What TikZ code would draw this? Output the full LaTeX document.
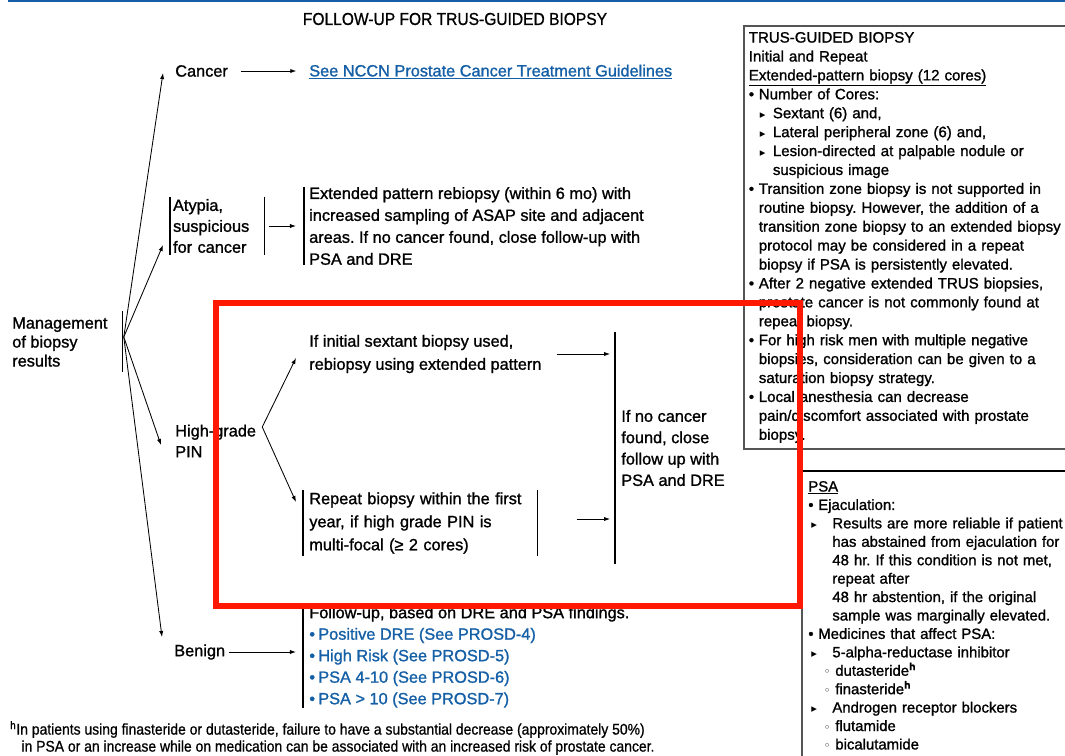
\documentclass[tikz,border=0pt]{standalone}
\usepackage{fontspec}
\setmainfont[FakeBold=1.2]{Liberation Sans}
\newfontfamily\narrowfont[FakeStretch=0.9,FakeBold=0.8]{Liberation Sans}
\newfontfamily\symfont{DejaVu Sans}
\usetikzlibrary{arrows.meta,calc}
\definecolor{nccnblue}{RGB}{20,95,165}
\definecolor{framegray}{RGB}{85,85,85}
\definecolor{markred}{RGB}{255,25,0}
\newcommand{\bul}{\makebox[7.1pt][l]{•}}
\newcommand{\fbul}{\makebox[6.4pt][l]{•}}
\newcommand{\trusarr}{\hspace*{7.8pt}\makebox[9.3pt][l]{\symfont\footnotesize ▸}}
\newcommand{\psaarr}{\hspace*{2.2pt}\makebox[14.9pt][l]{\symfont\footnotesize ▸}}
\newcommand{\psacirc}{\hspace*{11pt}\makebox[8.2pt][l]{\symfont\footnotesize ◦}}
\frenchspacing

\begin{document}
\begin{tikzpicture}[
  x=0.025cm, y=-0.025cm,
  txt/.style={inner sep=0pt, align=left, font=\fontsize{11.6}{15.6}\selectfont},
  boxtxt/.style={inner sep=0pt, align=left, font=\fontsize{10.7}{13.45}\selectfont},
  arrow/.style={-{Latex[length=4.3pt,width=3pt]}, line width=0.6pt},
  bar/.style={line width=1pt},
  frame/.style={draw=framegray, line width=1.3pt},
  redmark/.style={draw=markred, line width=4.3pt}
]
\useasboundingbox (0,0) rectangle (1065,756);
\draw[nccnblue, line width=1.4pt] (8,1.2) -- (1065,1.2);

\node[inner sep=0pt, font=\narrowfont\fontsize{12.3}{14}\selectfont] (title) at (455,19) {FOLLOW-UP FOR TRUS-GUIDED BIOPSY};

\node[txt, anchor=west, font=\fontsize{11.6}{13.5}\selectfont] (mgmt) at (12,342) {Management\\of biopsy\\results};
\coordinate (fan) at ($(mgmt.east)+(16,-5)$);
\draw[bar] ($(fan)+(-1,-26)$) -- ($(fan)+(-1,35)$);

\node[txt, anchor=west] (cancer) at (175,71) {Cancer};
\node[txt, anchor=west, text=nccnblue] (guide) at (309,72) {\underline{See NCCN Prostate Cancer Treatment Guidelines}};

\node[txt, anchor=west, inner xsep=2pt, inner ysep=1.5pt, text width=2.2cm, font=\fontsize{11.6}{14.9}\selectfont] (atypia) at (170,226) {Atypia,\\suspicious\\for cancer};
\node[txt, anchor=west, inner xsep=3.5pt] (rebiopsy) at (304,226) {Extended pattern rebiopsy (within 6 mo) with\\increased sampling of ASAP site and adjacent\\areas. If no cancer found, close follow-up with\\PSA and DRE};

\node[txt, anchor=west, font=\fontsize{11.6}{14.9}\selectfont] (hgpin) at (175,441) {High-grade\\PIN};
\coordinate (split) at ($(hgpin.east)+(6,-14)$);
\node[txt, anchor=west, font=\fontsize{11.6}{16.4}\selectfont] (sextant) at (309,354) {If initial sextant biopsy used,\\rebiopsy using extended pattern};
\node[txt, anchor=west, inner xsep=4.3pt, inner ysep=1.5pt, text width=5.55cm, font=\fontsize{11.6}{16.4}\selectfont] (multifocal) at (303,523) {Repeat biopsy within the first\\year, if high grade PIN is\\multi-focal (≥ 2 cores)};
\node[txt, anchor=west, inner xsep=4.3pt, minimum height=5.775cm, font=\fontsize{11.6}{15.2}\selectfont] (nocancer) at (615,448) {If no cancer\\found, close\\follow up with\\PSA and DRE};

\node[txt, anchor=west] (benign) at (174,652) {Benign};
\node[txt, anchor=west, inner xsep=4.3pt, font=\fontsize{11.6}{15.3}\selectfont] (fup) at (303,657) {Follow-up, based on DRE and PSA findings.\\
  \textcolor{nccnblue}{\fbul Positive DRE (See PROSD-4)}\\
  \textcolor{nccnblue}{\fbul High Risk (See PROSD-5)}\\
  \textcolor{nccnblue}{\fbul PSA 4-10 (See PROSD-6)}\\
  \textcolor{nccnblue}{\fbul PSA > 10 (See PROSD-7)}};

\node[anchor=west, inner sep=0pt, align=left, font=\narrowfont\fontsize{11}{12.1}\selectfont] (fnote) at (10,738) {\textsuperscript{h}In patients using finasteride or dutasteride, failure to have a substantial decrease (approximately 50\%)\\
  \hspace*{8pt}in PSA or an increase while on medication can be associated with an increased risk of prostate cancer.};

\node[boxtxt, frame, anchor=north west, inner xsep=3.5pt, inner ysep=3pt, text width=8cm, minimum height=10.575cm] (trus) at (743,25) {TRUS-GUIDED BIOPSY\\
  Initial and Repeat\\
  \underline{Extended-pattern biopsy (12 cores)}\\
  \bul Number of Cores:\\
  \trusarr Sextant (6) and,\\
  \trusarr Lateral peripheral zone (6) and,\\
  \trusarr Lesion-directed at palpable nodule or\\
  \hspace*{17.1pt}suspicious image\\
  \bul Transition zone biopsy is not supported in\\
  \hspace*{7.1pt}routine biopsy. However, the addition of a\\
  \hspace*{7.1pt}transition zone biopsy to an extended biopsy\\
  \hspace*{7.1pt}protocol may be considered in a repeat\\
  \hspace*{7.1pt}biopsy if PSA is persistently elevated.\\
  \bul After 2 negative extended TRUS biopsies,\\
  \hspace*{7.1pt}prostate cancer is not commonly found at\\
  \hspace*{7.1pt}repeat biopsy.\\
  \bul For high risk men with multiple negative\\
  \hspace*{7.1pt}biopsies, consideration can be given to a\\
  \hspace*{7.1pt}saturation biopsy strategy.\\
  \bul Local anesthesia can decrease\\
  \hspace*{7.1pt}pain/discomfort associated with prostate\\
  \hspace*{7.1pt}biopsy.};

\node[boxtxt, anchor=north west, inner xsep=4.3pt, inner ysep=7pt, text width=7cm, font=\fontsize{10.6}{13.1}\selectfont] (psa) at (802,471) {\underline{PSA}\\
  \bul Ejaculation:\\
  \psaarr Results are more reliable if patient\\
  \hspace*{17.1pt}has abstained from ejaculation for\\
  \hspace*{17.1pt}48 hr. If this condition is not met,\\
  \hspace*{17.1pt}repeat after\\
  \hspace*{17.1pt}48 hr abstention, if the original\\
  \hspace*{17.1pt}sample was marginally elevated.\\
  \bul Medicines that affect PSA:\\
  \psaarr 5-alpha-reductase inhibitor\\
  \psacirc dutasteride\textsuperscript{\textbf{h}}\\
  \psacirc finasteride\textsuperscript{\textbf{h}}\\
  \psaarr Androgen receptor blockers\\
  \psacirc flutamide\\
  \psacirc bicalutamide};
\draw[line width=1.8pt] (psa.north west) -- (psa.north east);
\draw[frame] (psa.north west) -- (psa.south west);

\draw[bar] (atypia.north west) -- (atypia.south west);
\draw[bar] (atypia.north east) -- (atypia.south east);
\draw[bar] (rebiopsy.north west) -- (rebiopsy.south west);
\draw[bar] (multifocal.north west) -- (multifocal.south west);
\draw[bar] (multifocal.north east) -- (multifocal.south east);
\draw[bar] (nocancer.north west) -- (nocancer.south west);
\draw[bar] (fup.north west) -- (fup.south west);

\draw[arrow] (fan) -- ($(cancer.west)+(-12,2)$);
\draw[arrow] (fan) -- ($(atypia.west)+(-7,19)$);
\draw[arrow] (fan) -- ($(hgpin.west)+(-14,4)$);
\draw[arrow] (fan) -- ($(benign.west)+(-12,-15)$);
\draw[arrow, shorten <=9pt, shorten >=9pt] (cancer.east) -- (cancer.east -| guide.west);
\draw[arrow, shorten <=3.5pt, shorten >=5.7pt] (atypia.east) -- (atypia.east -| rebiopsy.west);
\draw[arrow] (split) -- ($(sextant.west)+(-13,4)$);
\draw[arrow] (split) -- ($(multifocal.west)+(-7,-21)$);
\draw[arrow, shorten <=10.7pt, shorten >=3.5pt] (sextant.east) -- (sextant.east -| nocancer.west);
\draw[arrow, shorten <=27.7pt, shorten >=3.5pt] ($(multifocal.east)+(0,-4)$) -- ($(multifocal.east -| nocancer.west)+(0,-4)$);
\draw[arrow, shorten <=2.8pt, shorten >=5pt] (benign.east) -- (benign.east -| fup.west);

\draw[redmark] (216,303) rectangle (800,606);
\end{tikzpicture}
\end{document}
